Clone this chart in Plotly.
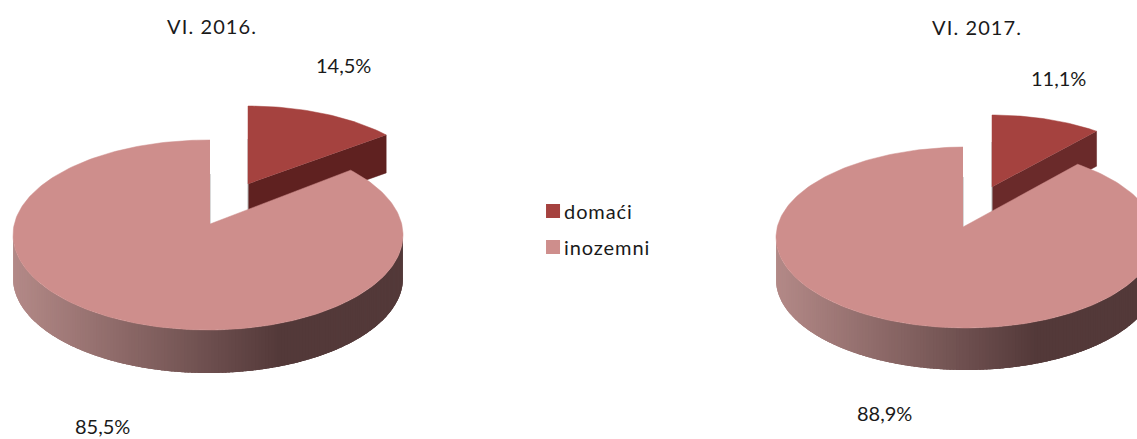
import numpy as np
import plotly.graph_objects as go

# ---- data ----
categories = ["domaći", "inozemni"]
panel_titles = ["VI. 2016.", "VI. 2017."]
values_2016 = [14.5, 85.5]
values_2017 = [11.1, 88.9]
labels_2016 = ["14,5%", "85,5%"]
labels_2017 = ["11,1%", "88,9%"]

# ---- styling / layout ----
W, H = 1137, 439
TOP_DARK, TOP_LIGHT = "#a5423f", "#ce8e8c"
FONT = "Lato"
FS = 20
PERSPECTIVE = 0.9

PANELS = [
    dict(vals=values_2016, labs=labels_2016, title=panel_titles[0],
         big=dict(cx=208, cy=235, rx=195, ry=95, ax=210, ay=224, d=43),
         small=dict(cx=248, cy=197, rx=189, ry=91, ax=248, ay=184, d=38),
         side="#5f2120", title_xy=(212, 26), lab_small=(343, 65), lab_big=(102, 426)),
    dict(vals=values_2017, labs=labels_2017, title=panel_titles[1],
         big=dict(cx=966, cy=237.5, rx=190, ry=90.5, ax=963, ay=227, d=42),
         small=dict(cx=992, cy=200, rx=178, ry=85, ax=992, ay=187, d=35),
         side="#6a2a2a", title_xy=(977, 27), lab_small=(1058, 78), lab_big=(884, 413)),
]


def arc(g, t):
    r = np.radians(t)
    return g["cx"] + g["rx"] * np.sin(r), g["cy"] - g["ry"] * np.cos(r)


def lerp_color(f):
    a = np.array([0xb4, 0x8a, 0x88])
    b = np.array([0x53, 0x39, 0x39])
    c = a + (b - a) * f
    return "rgb(%d,%d,%d)" % tuple(c)


def poly(fig, xs, ys, color, width=0.5):
    fig.add_trace(go.Scatter(x=list(xs), y=list(ys), mode="lines", fill="toself",
                             fillcolor=color, line=dict(color=color, width=width),
                             hoverinfo="skip", showlegend=False))


fig = go.Figure()

for p in PANELS:
    big, small = p["big"], p["small"]
    ang = p["vals"][0] / 100 * 360 * PERSPECTIVE

    # exploded small slice
    tx, ty = arc(small, ang)
    poly(fig, [small["ax"], tx, tx, small["ax"]],
         [small["ay"], ty, ty + small["d"], small["ay"] + small["d"]], p["side"])
    fig.add_trace(go.Scatter(x=[small["ax"], small["ax"]],
                             y=[small["ay"] - 45, small["ay"] + small["d"]], mode="lines",
                             line=dict(color="#b4b4b4", width=1), hoverinfo="skip", showlegend=False))
    t = np.linspace(0, ang, 40)
    ax_, ay_ = arc(small, t)
    poly(fig, np.r_[small["ax"], ax_], np.r_[small["ay"], ay_], TOP_DARK)

    # wall hint of big slice
    fig.add_trace(go.Scatter(x=[big["ax"], big["ax"]],
                             y=[big["ay"] - 50, big["ay"]], mode="lines",
                             line=dict(color="#b4b4b4", width=1), hoverinfo="skip", showlegend=False))

    # front wall of big slice, shaded by horizontal position; each piece overlaps the next
    edges = np.linspace(270, 90, 181)
    for t0, t1 in zip(edges[:-1], edges[1:]):
        seg = np.linspace(t0, max(t1 - 1.5, 90), 4)
        sx, sy = arc(big, seg)
        mid = (arc(big, t0)[0] - (big["cx"] - big["rx"])) / (big["rx"] * 1.37)
        col = lerp_color(min(mid, 1.0))
        fig.add_trace(go.Scatter(x=np.r_[sx, sx[::-1]].tolist(), y=np.r_[sy, sy[::-1] + big["d"]].tolist(),
                                 mode="none", fill="toself", fillcolor=col,
                                 hoverinfo="skip", showlegend=False))

    # top of big slice
    t_end = 360 + np.degrees(np.arcsin((big["ax"] - big["cx"]) / big["rx"]))
    t = np.linspace(ang, t_end, 240)
    ax_, ay_ = arc(big, t)
    poly(fig, np.r_[big["ax"], ax_], np.r_[big["ay"], ay_], TOP_LIGHT)

# legend entries
for name, col in zip(categories, [TOP_DARK, TOP_LIGHT]):
    fig.add_trace(go.Scatter(x=[None], y=[None], mode="markers", name=name, legendgroup=name,
                             marker=dict(symbol="square", size=14, color=col)))

annotations = []
for p in PANELS:
    for txt, (x, y) in [(p["title"], p["title_xy"]), (p["labs"][0], p["lab_small"]), (p["labs"][1], p["lab_big"])]:
        annotations.append(dict(x=x, y=y, text=txt, showarrow=False, xref="x", yref="y", borderpad=0,
                                font=dict(family=FONT, size=FS, color="#1a1a1a")))

fig.update_layout(
    width=W, height=H, margin=dict(l=0, r=0, t=0, b=0),
    paper_bgcolor="white", plot_bgcolor="white",
    xaxis=dict(range=[0, W], visible=False, fixedrange=True),
    yaxis=dict(range=[H, 0], visible=False, fixedrange=True),
    annotations=annotations,
    legend=dict(x=0.4688, y=0.5636, xanchor="left", yanchor="top", tracegroupgap=7,
                itemwidth=30, font=dict(family=FONT, size=FS, color="#1a1a1a"),
                bgcolor="rgba(0,0,0,0)"),
    showlegend=True,
)

# tighten swatch-to-label gap and open up the letter spacing, as in the reference
post = """
document.body.style.margin='0';
function tweak(){
  document.querySelectorAll('.legendtext').forEach(function(e){
    e.setAttribute('x','31'); e.style.letterSpacing='0.9px';
  });
  document.querySelectorAll('.annotation-text').forEach(function(e){
    if (e.textContent.indexOf('VI.')===0) e.style.letterSpacing='1.1px';
  });
}
tweak(); setTimeout(tweak, 0); setTimeout(tweak, 200);
"""
fig.write_html("out.html", config=dict(displayModeBar=False), post_script=post)
